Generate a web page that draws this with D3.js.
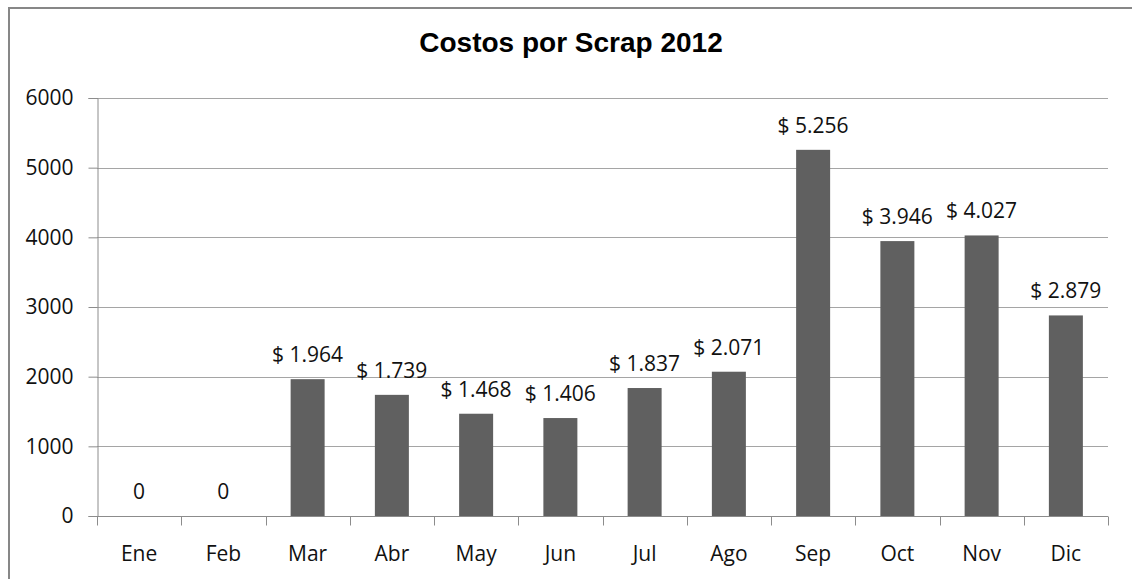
<!DOCTYPE html>
<html>
<head>
<meta charset="utf-8">
<script src="https://cdn.jsdelivr.net/npm/d3@7"></script>
<style>
  html, body { margin: 0; padding: 0; background: #fff; }
  svg { display: block; }
</style>
</head>
<body>
<svg id="chart" width="1132" height="579"></svg>
<script>
// Monthly scrap costs for 2012
const months = ["Ene", "Feb", "Mar", "Abr", "May", "Jun", "Jul", "Ago", "Sep", "Oct", "Nov", "Dic"];
const costs = [0, 0, 1964, 1739, 1468, 1406, 1837, 2071, 5256, 3946, 4027, 2879];
const yTicks = [0, 1000, 2000, 3000, 4000, 5000, 6000];
const chartTitle = "Costos por Scrap 2012";

const svg = d3.select("#chart");
const W = 1132, H = 579;
const plot = { left: 97, right: 1108, top: 98, bottom: 516 };

// Outer chart frame (left and top edges visible)
svg.append("path")
  .attr("d", `M9,${H} L9,8 L${W},8`)
  .attr("fill", "none")
  .attr("stroke", "#878787")
  .attr("stroke-width", 2);

const xBand = d3.scaleBand().domain(months).range([plot.left, plot.right]);

const y = d3.scaleLinear()
  .domain([0, 6000])
  .range([plot.bottom, plot.top]);

const textFont = "'Open Sans', 'Noto Sans', sans-serif";
const textSize = 21;

// Horizontal gridlines
svg.append("g")
  .selectAll("line")
  .data(yTicks.filter(d => d > 0))
  .join("line")
  .attr("x1", plot.left)
  .attr("x2", plot.right)
  .attr("y1", d => Math.round(y(d)) + 0.5)
  .attr("y2", d => Math.round(y(d)) + 0.5)
  .attr("stroke", "#a5a5a5")
  .attr("stroke-width", 1);

// Y axis
const yAxis = svg.append("g")
  .attr("transform", `translate(${plot.left + 0.5},0)`)
  .call(d3.axisLeft(y).tickValues(yTicks).tickSize(9).tickPadding(15).tickFormat(d3.format("d")));
yAxis.select(".domain").attr("stroke", "#8c8c8c");
yAxis.selectAll(".tick line").attr("stroke", "#8c8c8c");
yAxis.selectAll(".tick text")
  .attr("font-family", textFont)
  .attr("font-size", textSize)
  .attr("fill", "#111");

// X axis with ticks at category boundaries
const xg = svg.append("g").attr("transform", `translate(0,${plot.bottom + 0.5})`);
xg.append("line")
  .attr("x1", plot.left).attr("x2", plot.right)
  .attr("stroke", "#8c8c8c");
xg.selectAll("line.tick")
  .data(months.concat(["end"]))
  .join("line")
  .attr("class", "tick")
  .attr("x1", (d, i) => Math.round(i < months.length ? xBand(d) : plot.right) + 0.5)
  .attr("x2", (d, i) => Math.round(i < months.length ? xBand(d) : plot.right) + 0.5)
  .attr("y1", 0).attr("y2", 9)
  .attr("stroke", "#8c8c8c");
xg.selectAll("text")
  .data(months)
  .join("text")
  .attr("x", d => xBand(d) + xBand.bandwidth() / 2)
  .attr("y", 44)
  .attr("text-anchor", "middle")
  .attr("font-family", textFont)
  .attr("font-size", textSize)
  .attr("fill", "#111")
  .text(d => d);

// Bars
svg.append("g")
  .selectAll("rect")
  .data(costs)
  .join("rect")
  .attr("x", (d, i) => xBand(months[i]) + (xBand.bandwidth() - 34) / 2)
  .attr("width", 34)
  .attr("y", d => y(d))
  .attr("height", d => plot.bottom - y(d))
  .attr("fill", "#606060");

// Value labels (dot as thousands separator)
const fmtThousands = d3.formatLocale({ decimal: ",", thousands: ".", grouping: [3], currency: ["$", ""] }).format(",d");
svg.append("g")
  .selectAll("text")
  .data(costs)
  .join("text")
  .attr("x", (d, i) => xBand(months[i]) + xBand.bandwidth() / 2)
  .attr("y", d => y(d) - 17)
  .attr("text-anchor", "middle")
  .attr("font-family", textFont)
  .attr("font-size", textSize)
  .attr("fill", "#111")
  .text(d => d === 0 ? "0" : "$ " + fmtThousands(d));

// Title
svg.append("text")
  .attr("x", 571)
  .attr("y", 52)
  .attr("text-anchor", "middle")
  .attr("font-family", "'Liberation Sans', Arial, sans-serif")
  .attr("font-weight", "bold")
  .attr("font-size", 28)
  .attr("fill", "#000")
  .text(chartTitle);
</script>
</body>
</html>
